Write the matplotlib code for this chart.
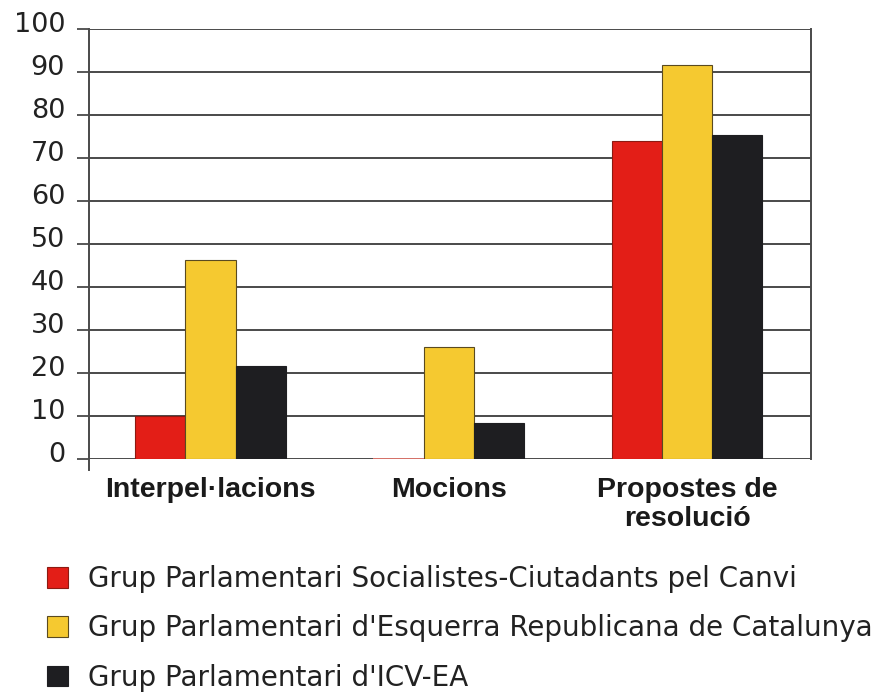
import matplotlib
matplotlib.use('Agg')
import matplotlib.pyplot as plt
import matplotlib.transforms as mtransforms
from matplotlib.patches import Patch
import numpy as np

# data
categories = ['Interpel·lacions', 'Mocions', 'Propostes de\nresolució']
groups = ['Grup Parlamentari Socialistes-Ciutadants pel Canvi',
          "Grup Parlamentari d'Esquerra Republicana de Catalunya",
          "Grup Parlamentari d'ICV-EA"]
psc = [10, 0, 74]
erc = [46.2, 26, 91.6]
icv = [21.5, 8.3, 75.3]
yticks = [0, 10, 20, 30, 40, 50, 60, 70, 80, 90, 100]

colors = ['#e31e17', '#f5c930', '#1e1e21']
edges = ['#8c1a12', '#5a4a20', '#1e1e21']

fig = plt.figure(figsize=(8.73, 6.92), dpi=100)
ax = fig.add_axes([0.1019, 0.3367, 0.8270, 0.6218])

x = np.arange(len(categories))
w = 0.211
for i, vals in enumerate([psc, erc, icv]):
    pos = x + (i - 1) * w
    ax.bar(pos, vals, width=w, color=colors[i], edgecolor=edges[i],
           linewidth=0.8, zorder=3)
    # zero-height bars still show as a thin line of their colour
    for p, v in zip(pos, vals):
        if v == 0:
            ax.hlines(0, p - w / 2, p + w / 2, color='#f07a70', linewidth=1.2, zorder=4)

ax.set_xlim(-0.51, 2.52)
ax.set_ylim(0, 100)
ax.set_yticks(yticks)
ax.set_xticks(x)
ax.set_xticklabels(categories, fontsize=20.5, fontweight='bold',
                   family='Liberation Sans', linespacing=1.15, color='#1a1a1a')
ax.tick_params(axis='x', length=0, pad=13)
ax.tick_params(axis='y', length=8.6, width=1.3, color='#4a4a4a', pad=8.6,
               labelsize=19.5, labelcolor='#222222')

ax.yaxis.grid(True, color='#4a4a4a', linewidth=1.4)
ax.set_axisbelow(True)

ax.spines['top'].set_visible(False)
ax.spines['bottom'].set_visible(False)
ax.spines['right'].set_color('#4a4a4a')
ax.spines['right'].set_linewidth(1.4)
ax.spines['left'].set_color('#4a4a4a')
ax.spines['left'].set_linewidth(1.4)
ax.spines['left'].set_bounds(-2.6, 100)

# y labels sit a bit above their grid lines
shift = mtransforms.ScaledTranslation(0, 7 / 100, fig.dpi_scale_trans)
for lab in ax.get_yticklabels():
    lab.set_transform(lab.get_transform() + shift)

handles = [Patch(facecolor=c, edgecolor=e, linewidth=0.8) for c, e in zip(colors, edges)]
fig.legend(handles, groups, loc='upper left', bbox_to_anchor=(47 / 873, 1 - 565 / 692),
           frameon=False, fontsize=20, handlelength=0.76, handleheight=0.76,
           handletextpad=0.72, labelspacing=0.77, borderpad=0, borderaxespad=0,
           labelcolor='#222222')

fig.savefig('out.png', dpi=100)
